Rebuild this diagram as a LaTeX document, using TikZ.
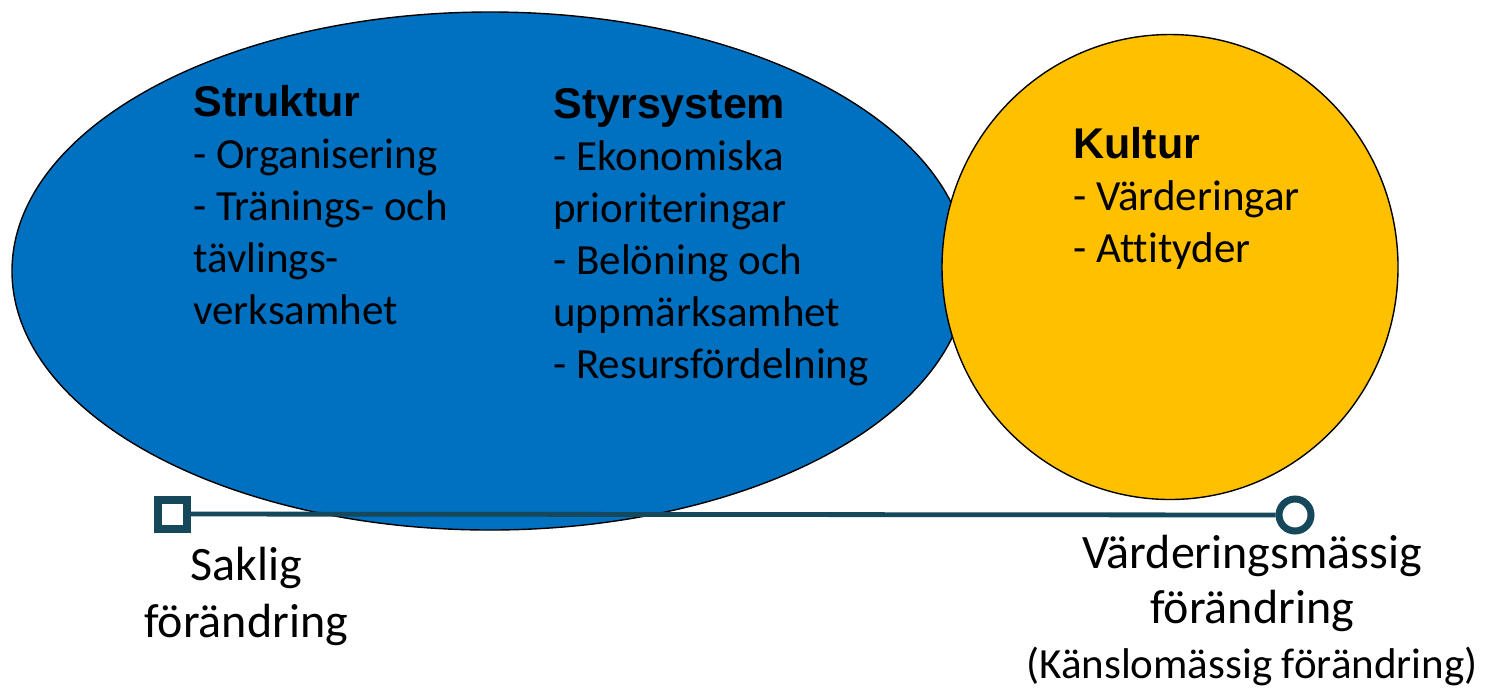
\documentclass[tikz,border=0pt]{standalone}
\usepackage{fontspec}
\setmainfont{Carlito}[Ligatures=NoCommon]
\newfontfamily\headfont{Liberation Sans}
\usetikzlibrary{shapes.geometric,positioning}
\definecolor{strukturblue}{RGB}{0,112,192}
\definecolor{kulturgold}{RGB}{255,192,0}
\definecolor{axisteal}{RGB}{22,72,92}
\newcommand{\heading}[1]{{\headfont\bfseries #1}}
\tikzstyle{area} = [ellipse, draw=black, line width=0.7pt, inner sep=0pt]
\tikzstyle{list} = [align=left, anchor=base west, inner sep=0pt, font=\fontsize{21.5}{26}\selectfont]
\tikzstyle{endtext} = [align=center, anchor=base, inner sep=0pt, font=\fontsize{24}{28.5}\selectfont]
\tikzstyle{axis} = [draw=axisteal, line width=2.4pt]

\begin{document}
\begin{tikzpicture}[x=0.5pt, y=-0.5pt]
    \useasboundingbox (0,0) rectangle (1486,692);
    \node[area, fill=strukturblue, minimum width=478pt, minimum height=259pt] (struktur) at (490,271) {};
    \node[area, fill=kulturgold, minimum width=228pt, minimum height=232.5pt] (kultur) at (1170,267) {};

    % base anchor sits on the last line
    \node[list] (strukturtext) at (193,324) {\heading{Struktur}\\- Organisering\\- Tränings- och\\tävlings-\\verksamhet};
    \node[list] (styrtext) at (553,378) {\heading{Styrsystem}\\- Ekonomiska\\prioriteringar\\- Belöning och\\uppmärksamhet\\- Resursfördelning};
    \node[list] (kulturtext) at (1073,262) {\heading{Kultur}\\- Värderingar\\- Attityder};

    \node[axis, rectangle, minimum size=14.5pt, line width=4pt, fill=white] (saklig) at (172,514) {};
    \node[axis, circle, minimum size=16pt, line width=3.5pt, fill=white] (vardering) at (1295,515) {};
    \draw[axis] (saklig) -- (vardering);

    \node[endtext] (sakligtext) at (246,637) {Saklig\\förändring};
    \node[endtext, font=\fontsize{24}{27.5}\selectfont] (varderingtext) at (1252,678) {Värderingsmässig\\förändring\\{\fontsize{21.5}{26.5}\selectfont (Känslomässig förändring)}};
\end{tikzpicture}
\end{document}
